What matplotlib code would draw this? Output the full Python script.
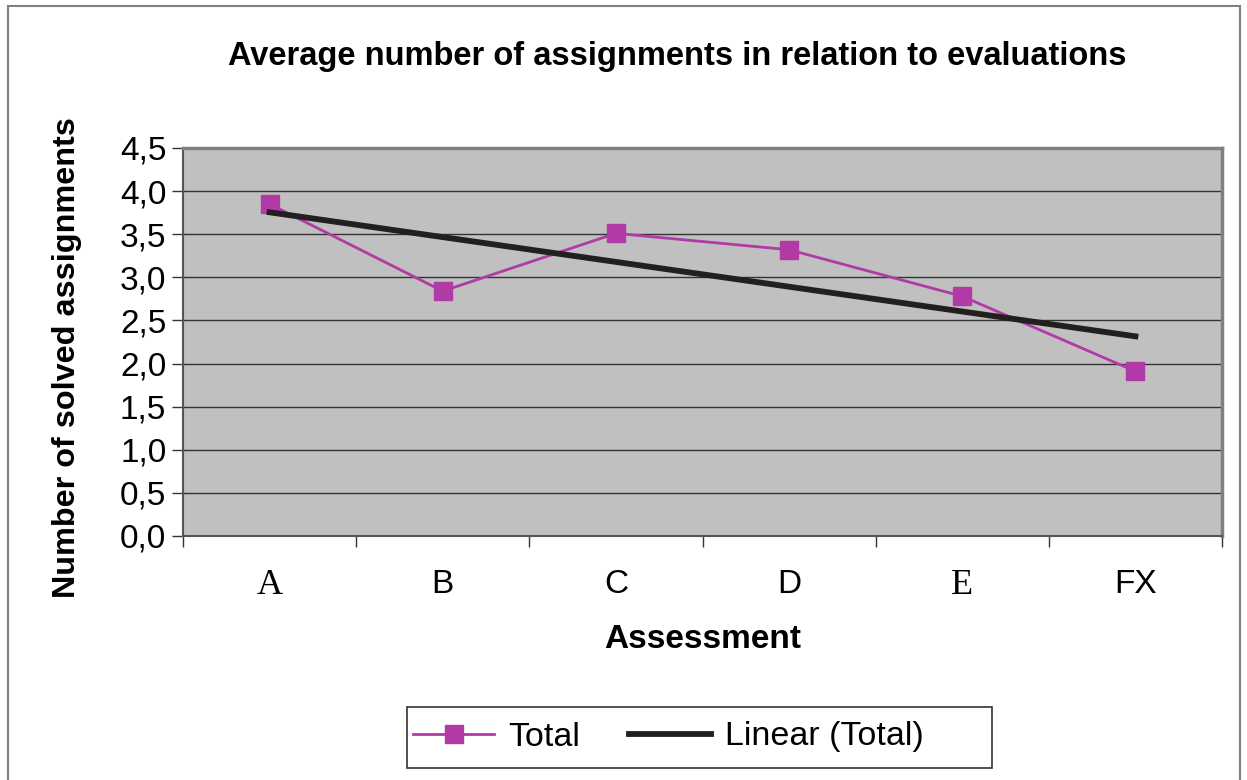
import numpy as np
import matplotlib
matplotlib.use('Agg')
import matplotlib.pyplot as plt
from matplotlib.patches import Rectangle

plt.rcParams['font.family'] = ['Liberation Sans', 'DejaVu Sans']

grades = ['A', 'B', 'C', 'D', 'E', 'FX']
serif_grades = ['A', 'E']  # в оригинале эти две буквы набраны Times
total = [3.85, 2.84, 3.51, 3.32, 2.78, 1.91]
yticks = [0.0, 0.5, 1.0, 1.5, 2.0, 2.5, 3.0, 3.5, 4.0, 4.5]

x = np.arange(1, len(grades) + 1)
k, b = np.polyfit(x, total, 1)  # линейный тренд, как в Excel
trend = k * x + b

fig = plt.figure(figsize=(12.47, 7.80), dpi=100)
ax = fig.add_axes([183/1247, 1 - 536/780, (1222 - 183)/1247, (536 - 148)/780])
ax.set_facecolor('#c0c0c0')

for yv in yticks[1:-1]:
    ax.axhline(yv, color='#333333', lw=1, zorder=1)

ax.plot(x, total, color='#b23aa6', lw=2, marker='s', ms=13.5, mec='#b23aa6', mfc='#b23aa6',
        label='Total', zorder=3)
ax.plot(x, trend, color='#231f20', lw=4.2, label='Linear (Total)', zorder=4)

ax.set_xlim(0.5, len(grades) + 0.5)
ax.set_ylim(0, 4.5)
ax.set_yticks(yticks)
ax.set_yticklabels([('%.1f' % v).replace('.', ',') for v in yticks], fontsize=24)
ax.set_xticks(np.arange(0.5, len(grades) + 1, 1))
ax.set_xticklabels([])
ax.set_xticks(x, minor=True)
ax.set_xticklabels(grades, minor=True, fontsize=24)
for lbl in ax.get_xticklabels(minor=True):
    if lbl.get_text() in serif_grades:
        lbl.set_family('Liberation Serif')
        lbl.set_fontsize(26)
ax.tick_params(axis='x', which='minor', length=0, pad=24)
ax.tick_params(axis='x', which='major', length=8, width=1, color='#333333', direction='out')
ax.tick_params(axis='y', length=8, width=1, color='#333333', direction='out', pad=4)

for s in ['top', 'right']:
    ax.spines[s].set_color('#808080')
    ax.spines[s].set_linewidth(2.5)
for s in ['left', 'bottom']:
    ax.spines[s].set_color('#555555')
    ax.spines[s].set_linewidth(1.5)

fig.text(677/1247, 1 - 56/780, 'Average number of assignments in relation to evaluations',
         ha='center', va='center', fontsize=23.5, fontweight='bold')
ax.set_xlabel('Assessment', fontsize=24, fontweight='bold')
ax.xaxis.set_label_coords((703 - 183)/1039, -(640 - 536)/388)
ax.xaxis.label.set_va('center')
ax.set_ylabel('Number of solved assignments', fontsize=23.3, fontweight='bold')
ax.yaxis.set_label_coords((67 - 183)/1039, (536 - 358)/388)
ax.yaxis.label.set_va('center')

# легенда без рамки, рамку рисуем отдельно - в Excel она шире справа
fig.legend(loc='center', bbox_to_anchor=(668/1247, 1 - 737/780), ncol=2, fontsize=24.5,
           frameon=False, handlelength=2.4, handletextpad=0.4, columnspacing=1.45,
           borderpad=0, borderaxespad=0)
fig.patches.append(Rectangle((407/1247, 1 - 768/780), (992 - 407)/1247, (768 - 707)/780,
                             transform=fig.transFigure, fill=False, ec='#333333', lw=1.2))

fig.patches.append(Rectangle((8/1247, -0.05), (1240 - 8)/1247, 1 - 6/780 + 0.05,
                             transform=fig.transFigure, fill=False, ec='#808080', lw=1.5))

fig.savefig('out.png', dpi=100)
